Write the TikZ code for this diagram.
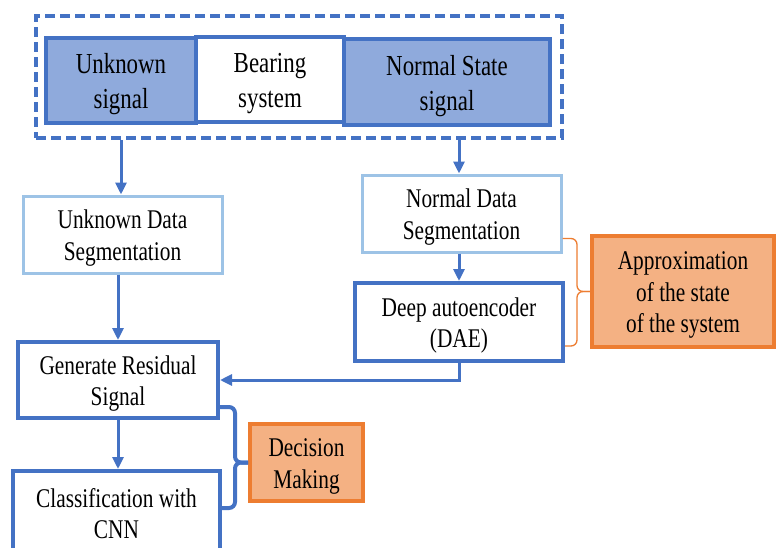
\documentclass[tikz,border=0pt]{standalone}
\usepackage{fontspec}
\setmainfont[FakeStretch=0.79]{Liberation Serif}
\usetikzlibrary{arrows.meta,calc}
\definecolor{bblue}{HTML}{4472C4}
\definecolor{fblue}{HTML}{8FAADC}
\definecolor{lblue}{HTML}{9DC3E6}
\definecolor{borange}{HTML}{ED7D31}
\definecolor{forange}{HTML}{F4B183}
\newcommand\myfl{\rule{0pt}{0.95em}}
\tikzset{
  box/.style={draw=bblue, line width=4pt, fill=white, align=center, inner sep=0pt,
    font=\fontsize{27}{31.5}\selectfont},
  topbox/.style={box, font=\fontsize{29}{35}\selectfont},
  lbox/.style={box, draw=lblue, line width=3pt},
  obox/.style={box, draw=borange, fill=forange},
  arr/.style={draw=bblue, line width=3pt, -{Triangle[length=12pt,width=11pt]}},
  obrace/.style={draw=borange, line width=1.3pt, rounded corners=6pt},
  bbrace/.style={draw=bblue, line width=4pt, rounded corners=6pt},
}
\begin{document}
\begin{tikzpicture}[x=1pt,y=-1pt]
\useasboundingbox (0,0) rectangle (776,547);
\clip (0,0) rectangle (776,547);
% top group
\node[draw=bblue, line width=4pt, dash pattern=on 10pt off 5pt, minimum width=526pt, minimum height=122pt, inner sep=0pt] (outer) at (299,77) {};
\node[topbox, fill=fblue, minimum width=150pt, minimum height=85pt] (unk) at (121,80.5) {\myfl Unknown\\signal};
\node[topbox, fill=fblue, minimum width=206pt, minimum height=86pt] (norm) at (447,82) {\myfl Normal State\\signal};
\node[topbox, minimum width=148pt, minimum height=85pt] (bear) at (270,79.5) {\myfl Bearing\\system};
% middle
\node[lbox, minimum width=199pt, minimum height=77pt] (useg) at (122.5,234.5) {\myfl Unknown Data\\Segmentation};
\node[lbox, minimum width=199pt, minimum height=77pt] (nseg) at (461.5,213.5) {\myfl Normal Data\\Segmentation};
\node[box, minimum width=208pt, minimum height=78pt] (dae) at (459,322) {\myfl Deep autoencoder\\(DAE)};
\node[obox, minimum width=182pt, minimum height=111pt] (appr) at (683,291.5) {\myfl Approximation\\of the state\\of the system};
\node[box, minimum width=200pt, minimum height=76pt] (gen) at (118,380) {\myfl Generate Residual\\Signal};
\node[box, minimum width=207pt, minimum height=79pt] (cls) at (116.5,510.5) {\myfl Classification with\\CNN};
\node[obox, minimum width=113pt, minimum height=77pt] (dec) at (306.5,462.5) {\myfl Decision\\Making};
% arrows
\draw[arr] (unk |- outer.south) -- (unk |- useg.north);
\draw[arr] (dae |- outer.south) -- (dae |- nseg.north);
\draw[arr] (dae |- nseg.south) -- (dae.north);
\draw[arr] (gen |- useg.south) -- (gen.north);
\draw[arr] (dae.south) |- (gen.east);
\draw[arr] (gen.south) -- (gen |- cls.north);
% braces
\coordinate (b1) at (577,291.5);
\coordinate (b2) at (235,462.5);
\draw[obrace] ($(nseg.south east)+(0,-15)$) -| (b1) -- (appr.west);
\draw[obrace] (appr.west) -- (b1) |- ($(dae.south east)+(0,-17)$);
\draw[bbrace] ($(gen.south east)+(0,-13)$) -| (b2) -- (dec.west);
\draw[bbrace] (dec.west) -- (b2) |- ($(cls.north east)+(0,39)$);
\end{tikzpicture}
\end{document}
